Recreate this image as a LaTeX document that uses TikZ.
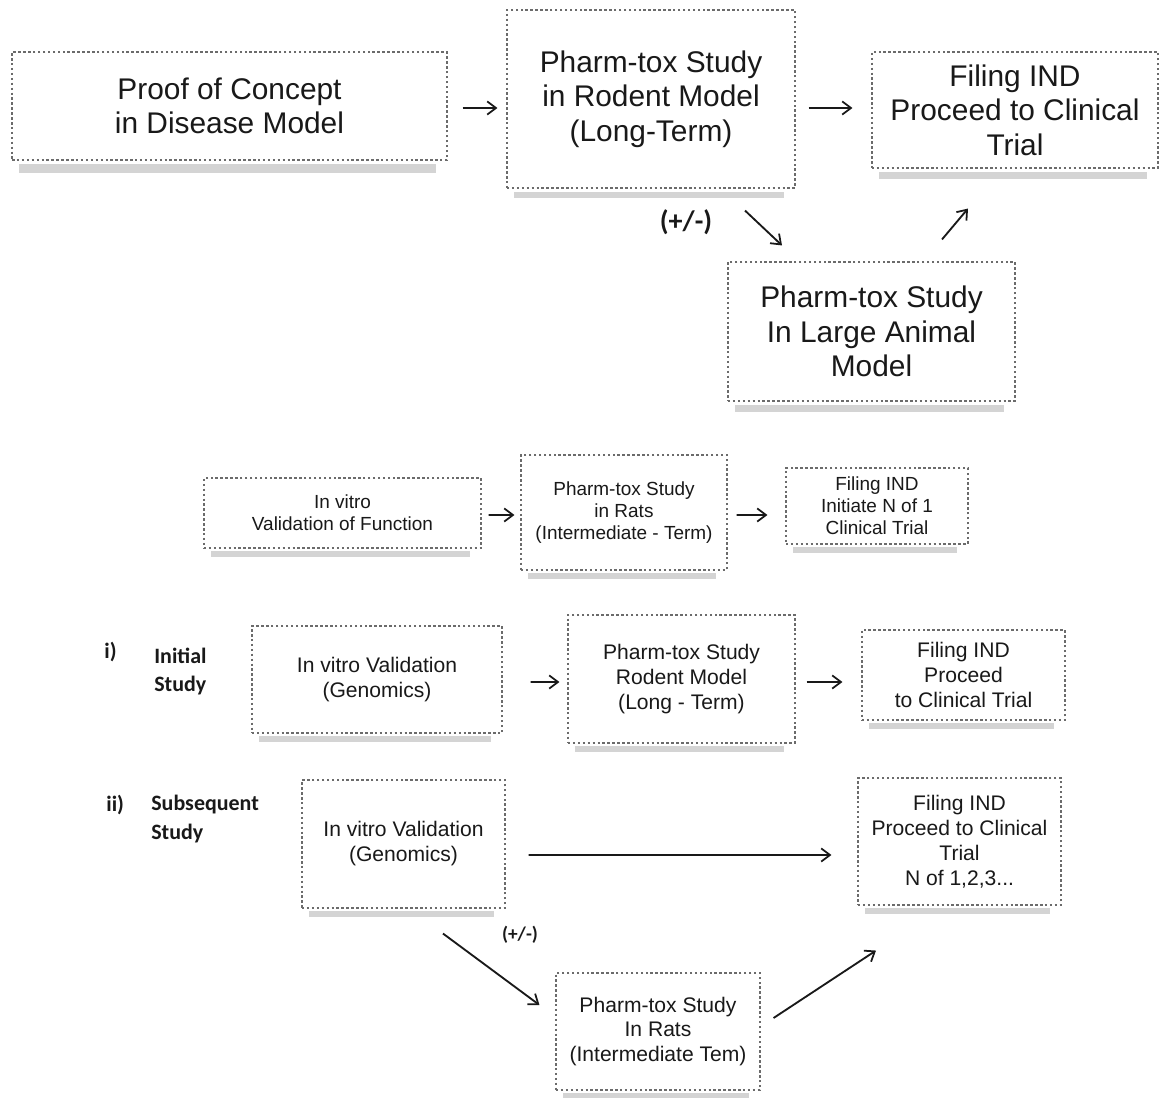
\documentclass[tikz,border=0pt]{standalone}
\usepackage{fontspec}
\setmainfont{Liberation Sans}
\newfontfamily\lblfont{Carlito}
\usetikzlibrary{arrows.meta,calc}
\definecolor{boxline}{gray}{0.42}
\definecolor{shadowc}{gray}{0.83}
\definecolor{inkc}{gray}{0.1}
\tikzset{
  box/.style={draw=boxline, line width=0.65pt, dash pattern=on 1.4pt off 1.4pt,
    fill=white, align=center, inner sep=0pt, text=inkc},
  big/.style={font=\fontsize{17}{19.6}\selectfont},
  small/.style={font=\fontsize{10.8}{12.6}\selectfont},
  mid/.style={font=\fontsize{12}{14.2}\selectfont},
  arr/.style={-{Straight Barb[length=5pt,width=7.5pt,line width=1pt]}, line width=1.05pt, draw=inkc},
  pmlabel/.style={text=inkc, inner sep=0pt},
  sidelabel/.style={text=inkc, inner sep=0pt, align=left, anchor=west,
    font=\lblfont\bfseries\fontsize{12.5}{16.5}\selectfont},
}
\newcommand\boxshadow[3]{\fill[shadowc] ($(#1.south west)+(8,#2)$) rectangle ($(#1.south east)+(-12,#3)$);}
\begin{document}
\begin{tikzpicture}[x=0.02cm,y=-0.02cm]
\useasboundingbox[fill=white] (0,0) rectangle (1160,1098);

% ---- top diagram
\node[box,big,minimum width=8.70cm,minimum height=2.16cm] (b1) at (229.5,106) {Proof of Concept\\in Disease Model};
\node[box,big,minimum width=5.76cm,minimum height=3.56cm] (b2) at (651,99) {Pharm-tox Study\\in Rodent Model\\(Long-Term)};
\node[box,big,minimum width=5.72cm,minimum height=2.32cm] (b3) at (1015,110) {Filing IND\\Proceed to Clinical\\Trial};
\node[box,big,minimum width=5.74cm,minimum height=2.78cm] (b4) at (871.5,331.5) {Pharm-tox Study\\In Large Animal\\Model};
\boxshadow{b1}{3}{12}
\boxshadow{b2}{3}{9}
\boxshadow{b3}{3}{10}
\boxshadow{b4}{3}{10}

\draw[arr] ($(b1.east)+(15,2)$) -- ($(b2.west)+(-9,9)$);
\draw[arr] ($(b2.east)+(13,9)$) -- ($(b3.west)+(-19,-2)$);
\draw[arr] ($(b2.south)+(94,22)$) -- ($(b4.north)+(-89.5,-16)$);
\draw[arr] ($(b4.north)+(70.5,-22)$) -- ($(b3.south)+(-47,40)$);
\node[pmlabel,font=\lblfont\bfseries\fontsize{16}{18}\selectfont] (pm1) at (686,222) {(+/-)};

% ---- middle diagram
\node[box,small,minimum width=5.54cm,minimum height=1.40cm] (b5) at (342.5,513) {In vitro\\Validation of Function};
\node[box,small,minimum width=4.12cm,minimum height=2.30cm] (b6) at (624,512.5) {Pharm-tox Study\\in Rats\\(Intermediate - Term)};
\node[box,small,minimum width=3.64cm,minimum height=1.52cm] (b7) at (877,506) {Filing IND\\Initiate N of 1\\Clinical Trial};
\boxshadow{b5}{2}{8}
\boxshadow{b6}{2}{8}
\boxshadow{b7}{2}{8}
\draw[arr] ($(b5.east)+(7,2)$) -- ($(b6.west)+(-6,2.5)$);
\draw[arr] ($(b6.east)+(9,2.5)$) -- ($(b7.west)+(-18,9)$);

% ---- row i
\node[sidelabel] (li) at (104,652) {i)};
\node[sidelabel] (lini) at (154,671.5) {Initial\\Study};
\node[box,mid,minimum width=5.00cm,minimum height=2.14cm] (b8) at (377,679.5) {In vitro Validation\\(Genomics)};
\node[box,mid,minimum width=4.54cm,minimum height=2.56cm] (b9) at (681.5,679) {Pharm-tox Study\\Rodent Model\\(Long - Term)};
\node[box,mid,minimum width=4.06cm,minimum height=1.80cm] (b10) at (963.5,675) {Filing IND\\Proceed\\to Clinical Trial};
\boxshadow{b8}{2}{8}
\boxshadow{b9}{2}{8}
\boxshadow{b10}{2}{8}
\draw[arr] ($(b8.east)+(28,2.5)$) -- ($(b9.west)+(-8,3)$);
\draw[arr] ($(b9.east)+(11,3)$) -- ($(b10.west)+(-19,7)$);

% ---- row ii
\node[sidelabel] (lii) at (106,805) {ii)};
\node[sidelabel] (lsub) at (151,819.5) {Subsequent\\Study};
\node[box,mid,minimum width=4.06cm,minimum height=2.56cm] (b11) at (403.5,844) {In vitro Validation\\(Genomics)};
\node[box,mid,minimum width=4.06cm,minimum height=2.54cm] (b12) at (959.5,841.5) {Filing IND\\Proceed to Clinical\\Trial\\N of 1,2,3...};
\node[box,mid,minimum width=4.08cm,minimum height=2.34cm] (b13) at (658,1031.5) {Pharm-tox Study\\In Rats\\(Intermediate Tem)};
\boxshadow{b11}{2}{8}
\boxshadow{b12}{2}{8}
\boxshadow{b13}{2}{8}
\draw[arr] ($(b11.east)+(23,11)$) -- ($(b12.west)+(-26,13.5)$);
\draw[arr] ($(b11.south)+(39.5,25)$) -- ($(b13.west)+(-16,-26.5)$);
\draw[arr] ($(b13.east)+(13,-13.5)$) -- ($(b12.south)+(-83.5,45)$);
\node[pmlabel,font=\lblfont\bfseries\fontsize{11}{13}\selectfont] (pm2) at (520,935) {(+/-)};
\end{tikzpicture}
\end{document}
